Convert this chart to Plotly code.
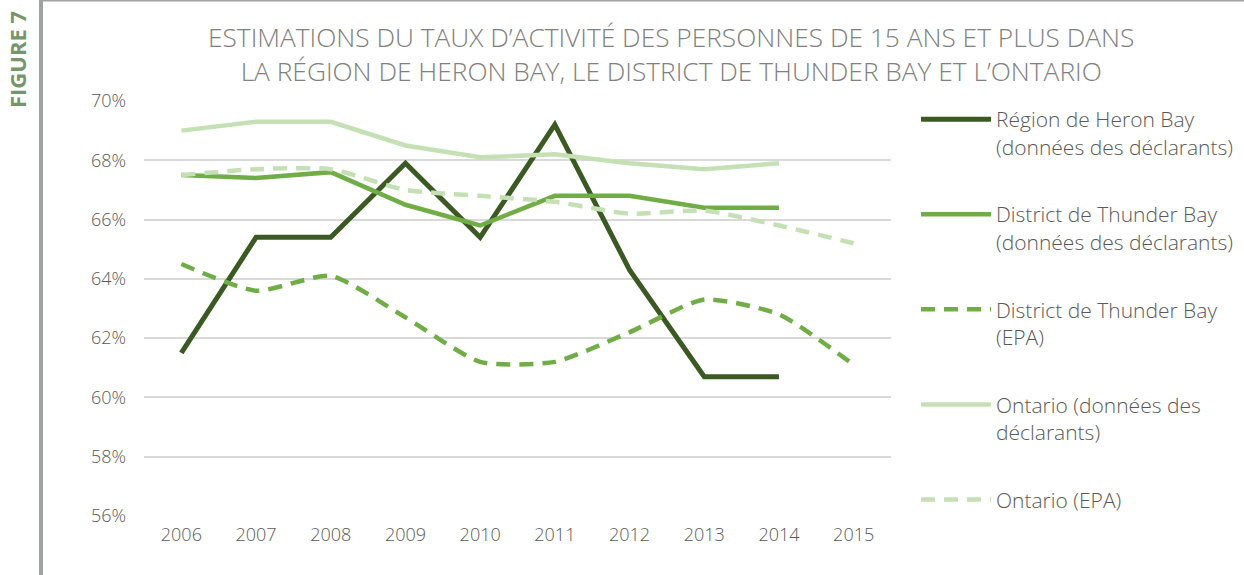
import plotly.graph_objects as go

# données
annees = ["2006", "2007", "2008", "2009", "2010", "2011", "2012", "2013", "2014", "2015"]

heron_bay = [61.5, 65.4, 65.4, 67.9, 65.4, 69.2, 64.3, 60.7, 60.7, None]
thunder_bay_decl = [67.5, 67.4, 67.6, 66.5, 65.8, 66.8, 66.8, 66.4, 66.4, None]
thunder_bay_epa = [64.5, 63.6, 64.1, 62.7, 61.2, 61.2, 62.2, 63.3, 62.8, 61.1]
ontario_decl = [69.0, 69.3, 69.3, 68.5, 68.1, 68.2, 67.9, 67.7, 67.9, None]
ontario_epa = [67.5, 67.7, 67.7, 67.0, 66.8, 66.6, 66.2, 66.3, 65.8, 65.2]

y_ticks = [56, 58, 60, 62, 64, 66, 68, 70]
y_labels = [f"{v}%" for v in y_ticks]

W, H = 1244, 575
L, R, T, B = 144, 353, 101, 59
PW, PH = W - L - R, H - T - B

FONT = "Open Sans"
GRIS = "#595959"


def px_x(x):
    return (x - L) / PW


def px_y(y):
    return 1 - (y - T) / PH


fig = go.Figure()

series = [
    ("Région de Heron Bay<br>(données des déclarants)", heron_bay, "#3b5a23", 5, "solid", "linear"),
    ("District de Thunder Bay<br>(données des déclarants)", thunder_bay_decl, "#70ad47", 4.5, "solid", "linear"),
    ("District de Thunder Bay<br>(EPA)", thunder_bay_epa, "#70ad47", 4.5, "14px,9px", "spline"),
    ("Ontario (données des<br>déclarants)", ontario_decl, "#c5e0b4", 4.5, "solid", "linear"),
    ("Ontario (EPA)", ontario_epa, "#c5e0b4", 4.5, "14px,9px", "spline"),
]

for i, (nom, vals, couleur, largeur, tiret, forme) in enumerate(series):
    fig.add_trace(go.Scatter(
        x=annees,
        y=vals,
        name=nom,
        mode="lines",
        legendgroup=f"g{i}",
        line=dict(color=couleur, width=largeur, dash=tiret, shape=forme, smoothing=0.6),
        connectgaps=False,
    ))

fig.update_layout(
    width=W,
    height=H,
    margin=dict(l=L, r=R, t=T, b=B, autoexpand=False),
    plot_bgcolor="white",
    paper_bgcolor="white",
    font=dict(family=FONT, color=GRIS, size=18),
    showlegend=True,
    legend=dict(
        x=px_x(916),
        y=px_y(99),
        xanchor="left",
        yanchor="top",
        valign="top",
        itemwidth=70,
        tracegroupgap=37.5,
        maxheight=560,
        font=dict(family=FONT, size=21, color=GRIS, weight=300),
        bgcolor="rgba(0,0,0,0)",
    ),
    xaxis=dict(
        type="category",
        range=[-0.5, 9.5],
        showgrid=False,
        showline=False,
        ticks="",
        ticklabelstandoff=6,
        tickfont=dict(size=18, color=GRIS, weight=300),
    ),
    yaxis=dict(
        range=[56, 70],
        tickvals=y_ticks,
        ticktext=y_labels,
        showgrid=True,
        gridcolor="#d9d9d9",
        gridwidth=1.5,
        zeroline=False,
        showline=False,
        ticks="",
        ticklabelstandoff=17,
        tickfont=dict(size=18, color=GRIS, weight=300),
    ),
)

# titre
fig.add_annotation(
    text="ESTIMATIONS DU TAUX D’ACTIVITÉ DES PERSONNES DE 15 ANS ET PLUS DANS<br>"
         "LA RÉGION DE HERON BAY, LE DISTRICT DE THUNDER BAY ET L’ONTARIO",
    xref="paper", yref="paper",
    x=px_x(671), y=px_y(54),
    xanchor="center", yanchor="middle",
    showarrow=False,
    font=dict(family=FONT, size=26.3, color="#808080", weight=300),
)

# libellé vertical
fig.add_annotation(
    text="<b>FIGURE 7</b>",
    xref="paper", yref="paper",
    x=px_x(17), y=px_y(60),
    xanchor="center", yanchor="middle",
    textangle=-90,
    showarrow=False,
    font=dict(family=FONT, size=22, color="#76956a"),
)

# cadre gris (barre gauche et filet du haut)
fig.add_shape(type="line", xref="paper", yref="paper",
              x0=px_x(41), x1=px_x(41), y0=px_y(0), y1=px_y(H),
              line=dict(color="#9ea2a2", width=4))
fig.add_shape(type="line", xref="paper", yref="paper",
              x0=px_x(41), x1=px_x(W), y0=px_y(0.5), y1=px_y(0.5),
              line=dict(color="#9ea2a2", width=2))

# la page ne doit pas décaler la figure
fig.write_html(
    "out.html",
    config={"displayModeBar": False},
    post_script="document.body.style.margin='0';",
)
